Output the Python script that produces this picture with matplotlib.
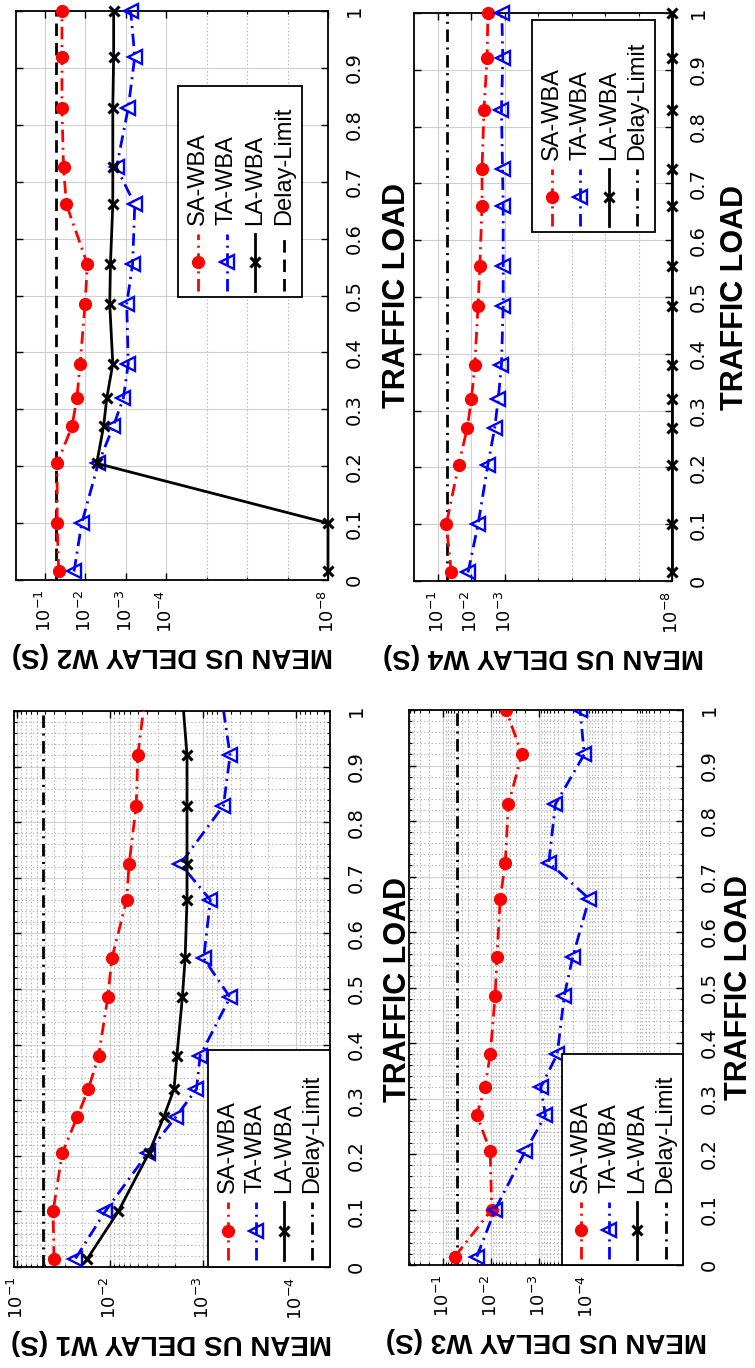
"""
Mean upstream delay per class (W1..W4) versus traffic load, drawn the way
the scanned page shows it: the whole figure turned 90 degrees, so traffic
load runs up the page and the log delay axis runs right to left.
"""

import math
import matplotlib
matplotlib.use("Agg")
import matplotlib.pyplot as plt
import matplotlib.transforms as mtrans
from matplotlib.patches import Rectangle
from matplotlib.ticker import FixedLocator, NullLocator, MultipleLocator, LogLocator, NullFormatter

plt.rcParams["lines.scale_dashes"] = False
plt.rcParams["font.family"] = "DejaVu Sans"
plt.rcParams["mathtext.fontset"] = "dejavusans"

# ---- data ----
LOAD = [0.015, 0.1, 0.205, 0.27, 0.32, 0.38, 0.485, 0.555, 0.66, 0.725, 0.83, 0.92, 1.0]
LOAD_W1 = [0.015, 0.1, 0.205, 0.27, 0.32, 0.38, 0.485, 0.555, 0.66, 0.725, 0.83, 0.92, 1.05]
LOAD_TICKS = [0, 0.1, 0.2, 0.3, 0.4, 0.5, 0.6, 0.7, 0.8, 0.9, 1.0]
LOAD_TICK_LABELS = ["0", "0.1", "0.2", "0.3", "0.4", "0.5", "0.6", "0.7", "0.8", "0.9", "1"]

W1_SA = [0.0398, 0.0407, 0.0324, 0.0224, 0.0170, 0.0132, 0.0105, 0.0095, 0.0066, 0.0062, 0.0052, 0.0050, 0.0040]
W1_TA = [0.0234, 0.0112, 0.0039, 0.00195, 0.00117, 0.00107, 0.00051, 0.00098, 0.00083, 0.00174, 0.00060, 0.00051, 0.00066]
W1_LA = [0.0174, 0.0081, 0.0038, 0.00263, 0.00204, 0.00190, 0.00166, 0.00155, 0.00148, 0.00148, 0.00148, 0.00148, 0.00170]
W1_LIMIT = 0.052

W2_SA = [0.0457, 0.0500, 0.0500, 0.0214, 0.0162, 0.0135, 0.0102, 0.0089, 0.0295, 0.0347, 0.0380, 0.0380, 0.0380]
W2_TA = [0.0191, 0.0123, 0.00479, 0.00204, 0.00115, 0.00087, 0.00095, 0.00068, 0.00060, 0.00170, 0.00087, 0.00060, 0.00076]
W2_LA = [1e-8, 1e-8, 0.00525, 0.00355, 0.00295, 0.00210, 0.00250, 0.00240, 0.00210, 0.00210, 0.00210, 0.00200, 0.00200]
W2_LIMIT = 0.053

W3_SA = [0.0575, 0.0098, 0.0105, 0.0200, 0.0135, 0.0105, 0.0083, 0.0076, 0.0065, 0.0051, 0.0044, 0.0023, 0.0049]
W3_TA = [0.0200, 0.0083, 0.00195, 0.00074, 0.00093, 0.00042, 0.00030, 0.00020, 0.000091, 0.00063, 0.00046, 0.000115, 0.00014]
W3_LA = [1e-8] * 13
W3_LIMIT = 0.052

W4_SA = [0.0398, 0.0562, 0.0240, 0.0132, 0.0100, 0.0079, 0.0063, 0.0056, 0.0048, 0.0048, 0.0042, 0.0034, 0.0032]
W4_TA = [0.0126, 0.0063, 0.0032, 0.0020, 0.00158, 0.00126, 0.00112, 0.00112, 0.00112, 0.00117, 0.00126, 0.00115, 0.00123]
W4_LA = [1e-8] * 13
W4_LIMIT = 0.055

SERIES = ["SA-WBA", "TA-WBA", "LA-WBA", "Delay-Limit"]

DASHDOT = (0, (9, 4, 1.5, 4))
DASHED = (0, (9, 5))
STYLE = {
    "SA-WBA": dict(color="red", ls=DASHDOT, lw=2, marker="o", ms=8.5, mfc="red", mec="red"),
    "TA-WBA": dict(color="blue", ls=DASHDOT, lw=2, marker="<", ms=10, mfc="none", mec="blue", mew=1.7),
    "LA-WBA": dict(color="black", ls="-", lw=2, marker="x", ms=7, mec="black", mew=2.2),
}

fig = plt.figure(figsize=(7.55, 13.68), dpi=100)
px = fig.dpi_scale_trans


def rot_legend(ax, box, limit_ls):
    x0, y0, x1, y1 = box
    w, h = x1 - x0, y1 - y0
    ax.add_patch(Rectangle((x0, y0), w, h, transform=ax.transAxes, fc="white",
                           ec="black", lw=1.3, zorder=6, clip_on=False))
    for i, name in enumerate(SERIES):
        cx = x0 + w * (0.16 + 0.232 * i)
        ya, yb = y0 + h * 0.03, y0 + h * 0.30
        if name == "Delay-Limit":
            st = dict(color="black", ls=limit_ls, lw=2)
        else:
            st = {k: v for k, v in STYLE[name].items() if not k.startswith("m")}
        ax.plot([cx, cx], [ya, yb], transform=ax.transAxes, clip_on=False, zorder=7, **st)
        if name != "Delay-Limit":
            mk = {k: v for k, v in STYLE[name].items() if k.startswith("m")}
            ax.plot([cx], [(ya + yb) / 2], transform=ax.transAxes, clip_on=False,
                    zorder=8, ls="none", **mk)
        ax.text(cx, y0 + h * 0.34, name, rotation=90, ha="center", va="bottom",
                transform=ax.transAxes, fontsize=17, family="Liberation Sans", zorder=8)


def panel(rect, load, sa, ta, la, limit, limit_ls, xlim, xticks, dense, clip,
          leg_box, name, tl_dx):
    ax = fig.add_axes(rect)
    ax.set_xscale("log")

    for key, vals in (("SA-WBA", sa), ("TA-WBA", ta), ("LA-WBA", la)):
        ax.plot(vals, load, clip_on=clip, zorder=4, **STYLE[key])
    ax.axvline(limit, color="black", ls=limit_ls, lw=2, zorder=3)

    ax.set_xlim(*xlim)
    ax.set_ylim(0, 1)

    # delay axis (horizontal, inverted)
    ax.xaxis.set_major_locator(FixedLocator(xticks))
    ax.set_xticklabels([r"$10^{%d}$" % round(math.log10(t)) for t in xticks],
                       rotation=90, fontsize=13)
    if dense:
        ax.xaxis.set_minor_locator(LogLocator(base=10, subs=range(2, 10), numticks=30))
        ax.yaxis.set_minor_locator(MultipleLocator(0.02))
    else:
        decades = [10.0 ** k for k in range(-8, 0) if 10.0 ** k not in xticks]
        ax.xaxis.set_minor_locator(FixedLocator(decades))
        ax.yaxis.set_minor_locator(NullLocator())
    ax.xaxis.set_minor_formatter(NullFormatter())

    # traffic axis (vertical), labels on the right
    ax.set_yticks(LOAD_TICKS)
    ax.set_yticklabels(LOAD_TICK_LABELS, fontsize=14)
    ax.tick_params(axis="y", labelleft=False, labelright=True, labelrotation=90, pad=12)
    for lab in ax.get_yticklabels():
        lab.set_va("center")
    ax.tick_params(axis="x", pad=7)
    ax.tick_params(which="both", direction="in", top=True, right=True, left=True, bottom=True)
    ax.tick_params(which="major", length=5, width=1)
    ax.tick_params(which="minor", length=2.5, width=0.8)

    ax.grid(True, which="major", color="#cfcfcf", ls="-", lw=0.8)
    ax.grid(True, which="minor", color="#b5b5b5", ls=":", lw=0.8)
    ax.set_axisbelow(True)
    for s in ax.spines.values():
        s.set_linewidth(1.3)
        s.set_color("black")

    rot_legend(ax, leg_box, limit_ls)

    ax.text(0.5, 0, "MEAN US DELAY %s (S)" % name, rotation=180, ha="center", va="center",
            fontsize=20, fontweight="bold", family="Liberation Sans",
            transform=ax.transAxes + mtrans.ScaledTranslation(0, -75 / 100, px))
    ax.text(1, 0.5, "TRAFFIC LOAD", rotation=90, ha="center", va="center",
            fontsize=22, fontweight="bold", family="Liberation Sans",
            transform=ax.transAxes + mtrans.ScaledTranslation(tl_dx / 100, 0, px))
    return ax


# top-left: W2
panel([16 / 755, 1 - 580 / 1368, 312 / 755, 569 / 1368], LOAD, W2_SA, W2_TA, W2_LA,
      W2_LIMIT, DASHED, (0.52, 1e-8), [1e-8, 1e-4, 1e-3, 1e-2, 1e-1], False, False,
      (0.519, 0.497, 0.917, 0.868), "W2", 69)
# top-right: W4
panel([414 / 755, 1 - 581 / 1368, 258 / 755, 568 / 1368], LOAD, W4_SA, W4_TA, W4_LA,
      W4_LIMIT, DASHDOT, (0.52, 1e-8), [1e-8, 1e-3, 1e-2, 1e-1], False, False,
      (0.457, 0.614, 0.934, 0.988), "W4", 63)
# bottom-left: W1
panel([14 / 755, 1 - 1267 / 1368, 316 / 755, 556 / 1368], LOAD_W1, W1_SA, W1_TA, W1_LA,
      W1_LIMIT, DASHDOT, (0.107, 4.3e-5), [1e-4, 1e-3, 1e-2, 1e-1], True, True,
      (0.614, 0.0, 1.0, 0.39), "W1", 68)
# bottom-right: W3
panel([409 / 755, 1 - 1265 / 1368, 274 / 755, 555 / 1368], LOAD, W3_SA, W3_TA, W3_LA,
      W3_LIMIT, DASHDOT, (0.52, 1e-6), [1e-4, 1e-3, 1e-2, 1e-1], True, True,
      (0.558, 0.0, 1.0, 0.38), "W3", 56)

fig.savefig("out.png", dpi=100)
print("saved out.png")
